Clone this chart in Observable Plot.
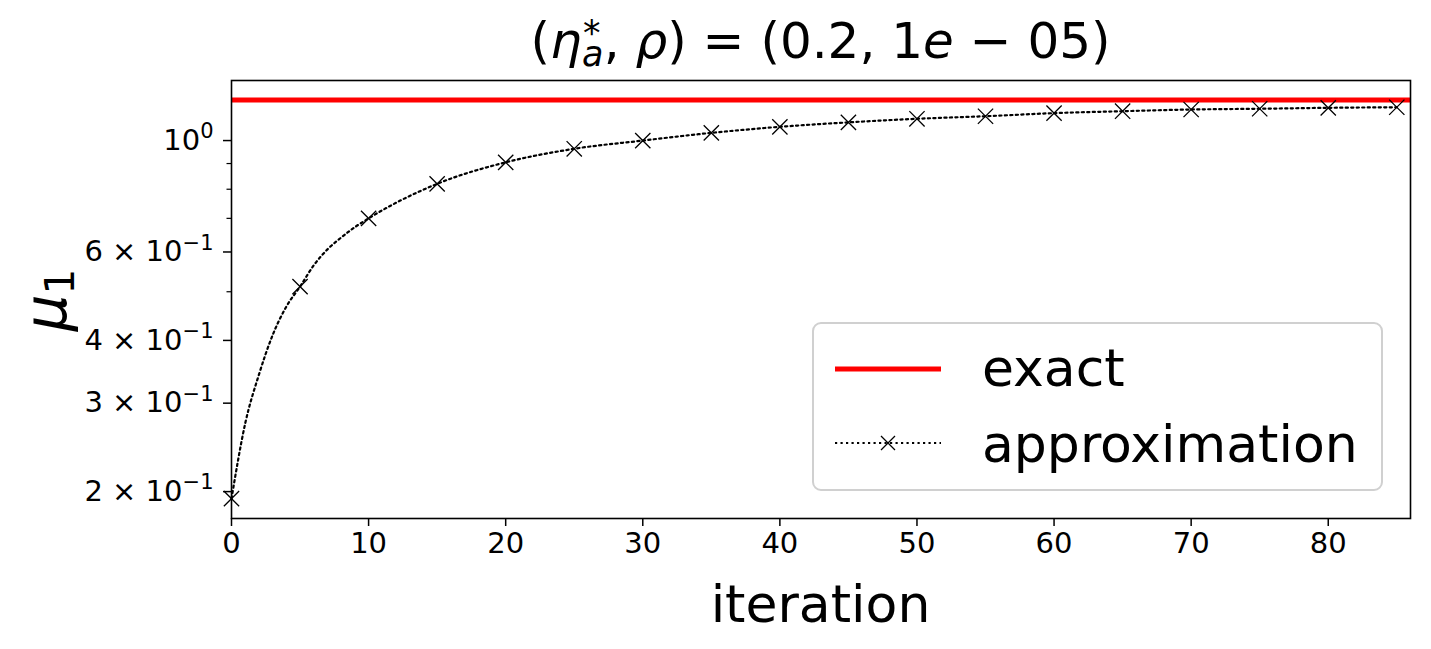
<!DOCTYPE html>
<html><head><meta charset="utf-8">
<script src="https://cdn.jsdelivr.net/npm/d3@7"></script>
<script src="https://cdn.jsdelivr.net/npm/@observablehq/plot@0.6"></script>
<style>
body{margin:0;background:#fff;font-family:"DejaVu Sans",sans-serif;}
#wrap{position:relative;width:1431px;height:649px;overflow:hidden;}
.ov{position:absolute;white-space:nowrap;color:#000;line-height:1;}
#title{left:0;width:1641px;top:16px;text-align:center;font-size:50px;}
#xlab{left:0;width:1641px;top:578px;text-align:center;font-size:52px;}
#ylab{left:49px;top:300px;font-size:58px;transform:translate(-50%,-50%) rotate(-90deg);}
.eta{position:relative;display:inline-block;padding-right:22px;}
.eta .sup{position:absolute;left:33px;top:0px;font-size:35px;line-height:1;}
.eta .sub{position:absolute;left:32px;top:21px;font-size:35px;line-height:1;font-style:italic;}
#legend{position:absolute;left:812px;top:322px;width:567px;height:165px;border:2px solid #d0d0d0;border-radius:9px;background:rgba(255,255,255,0.8);}
#legend .txt{position:absolute;left:168px;font-size:52px;line-height:1;}
</style></head><body><div id="wrap"></div>
<script>
// approximation curve (every iteration read where the dotted line is visible, then every 5)
const iterations = [0,1,2,3,4,5,6,7,8,9,10,15,20,25,30,35,40,45,50,55,60,65,70,75,80,85];
const approximation = [0.1937,0.2734,0.3419,0.4098,0.4670,0.512,0.5643,0.6072,0.6410,0.6724,0.700,0.820,0.905,0.963,1.000,1.036,1.065,1.087,1.105,1.118,1.134,1.144,1.153,1.157,1.162,1.165];
const markerEvery = 5;
const exactValue = 1.205;
const xTicks = [0,10,20,30,40,50,60,70,80];
const yMajorTicks = [1,0.6,0.4,0.3,0.2];
const yTickMantissa = ["","6","4","3","2"];
const yTickExponent = ["0","\u22121","\u22121","\u22121","\u22121"];
const yMinorTicks = [0.9,0.8,0.7,0.5];
const seriesNames = ["exact","approximation"];

const data = iterations.map((x,i)=>({iteration:x, mu:approximation[i]}));
const markers = data.filter(d=>d.iteration % markerEvery === 0);

const chart = Plot.plot({
  width:1431, height:649,
  marginLeft:231, marginRight:21, marginTop:80, marginBottom:131,
  x:{domain:[0,86]},
  y:{type:"log", domain:[0.1768,1.317]},
  style:{fontFamily:"DejaVu Sans", fontSize:"29px", color:"black", background:"white", overflow:"visible"},
  marks:[
    Plot.ruleY([exactValue],{stroke:"red",strokeWidth:5}),
    Plot.line(data,{x:"iteration",y:"mu",stroke:"black",strokeWidth:2.2,strokeDasharray:"2.2,3.3",curve:"monotone-x"}),
    Plot.dot(markers,{x:"iteration",y:"mu",symbol:"times",r:7,stroke:"black",strokeWidth:1.3}),
    Plot.axisX({ticks:xTicks, tickSize:8, tickPadding:6, label:null, fontSize:29, strokeWidth:1.5}),
    Plot.axisY({ticks:yMajorTicks, tickFormat:d=>{const i=yMajorTicks.indexOf(d); return (yTickMantissa[i]?yTickMantissa[i]+" \u00d7 ":"")+"10^"+yTickExponent[i];}, tickSize:8, tickPadding:10, label:null, fontSize:29, strokeWidth:1.5}),
    Plot.axisY({ticks:yMinorTicks, tickFormat:()=>"", tickSize:4.5, label:null, strokeWidth:1.2}),
    Plot.frame({stroke:"black",strokeWidth:1.6})
  ]
});
// render exponents as raised smaller text
chart.querySelectorAll("text").forEach(t=>{
  const s = t.textContent;
  if (s.includes("^")) {
    const [base, exp] = s.split("^");
    while (t.firstChild) t.removeChild(t.firstChild);
    const a = document.createElementNS("http://www.w3.org/2000/svg","tspan");
    a.textContent = base;
    const b = document.createElementNS("http://www.w3.org/2000/svg","tspan");
    b.textContent = exp; b.setAttribute("font-size","21"); b.setAttribute("dy","-0.55em");
    t.appendChild(a); t.appendChild(b);
  }
});
const wrap = document.getElementById("wrap");
wrap.appendChild(chart);

const title = document.createElement("div");
title.className="ov"; title.id="title";
title.innerHTML = '(<span class="eta"><i>η</i><span class="sup">*</span><span class="sub">a</span></span>, <i>ρ</i>) = (0.2, 1<i>e</i> − 05)';
wrap.appendChild(title);

const xl = document.createElement("div");
xl.className="ov"; xl.id="xlab"; xl.textContent="iteration";
wrap.appendChild(xl);

const yl = document.createElement("div");
yl.className="ov"; yl.id="ylab"; yl.innerHTML='<i>μ</i><span style="font-size:0.7em;vertical-align:-0.2em">1</span>';
wrap.appendChild(yl);

const lg = document.createElement("div");
lg.id="legend";
lg.innerHTML = `
<svg width="160" height="165" style="position:absolute;left:0;top:0">
  <line x1="21" y1="45" x2="127" y2="45" stroke="red" stroke-width="5"/>
  <line x1="21" y1="119" x2="127" y2="119" stroke="black" stroke-width="2.2" stroke-dasharray="2.2,3.3"/>
  <path d="M67,112 L81,126 M81,112 L67,126" stroke="black" stroke-width="1.3" fill="none"/>
</svg>
<div class="txt" style="top:18px">${seriesNames[0]}</div>
<div class="txt" style="top:94px">${seriesNames[1]}</div>`;
wrap.appendChild(lg);
</script>
</body></html>
